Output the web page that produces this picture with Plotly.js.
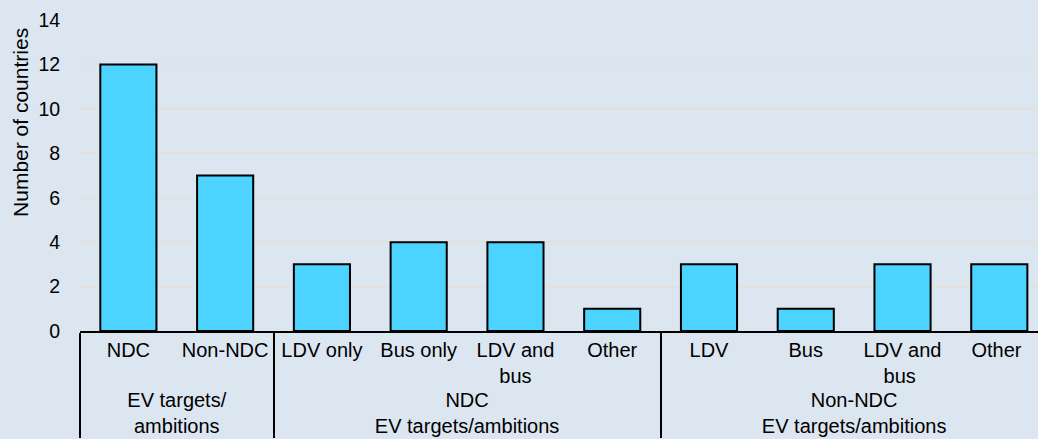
<!DOCTYPE html>
<html>
<head>
<meta charset="utf-8">
<script src="https://cdn.plot.ly/plotly-3.0.1.min.js"></script>
<style>
  html, body { margin: 0; padding: 0; background: #dce6f1; }
  #chart { width: 1038px; height: 439px; }
</style>
</head>
<body>
<div id="chart"></div>
<script>
// level 1 = group, level 2 = category; the trailing space keeps repeated
// names in the Non-NDC group as their own categories (keeps order)
const groups = [
  'EV targets/<br>ambitions', 'EV targets/<br>ambitions',
  'NDC<br>EV targets/ambitions', 'NDC<br>EV targets/ambitions',
  'NDC<br>EV targets/ambitions', 'NDC<br>EV targets/ambitions',
  'Non-NDC<br>EV targets/ambitions', 'Non-NDC<br>EV targets/ambitions',
  'Non-NDC<br>EV targets/ambitions', 'Non-NDC<br>EV targets/ambitions',
];
const categories = [
  'NDC', 'Non-NDC',
  'LDV only', 'Bus only', 'LDV and<br>bus', 'Other',
  'LDV', 'Bus', 'LDV and<br>bus ', 'Other ',
];
const countries = [12, 7, 3, 4, 4, 1, 3, 1, 3, 3];
const yTicks = [0, 2, 4, 6, 8, 10, 12, 14];

const font = { family: 'Liberation Sans, Arial, sans-serif', color: '#000' };

const trace = {
  x: [groups, categories],
  y: countries,
  type: 'bar',
  marker: { color: '#4cd3ff', line: { color: '#000', width: 2 } },
  hovertemplate: '%{y}<extra></extra>',
};

const layout = {
  width: 1038,
  height: 439,
  margin: { l: 80, r: 0, t: 20, b: 108 },
  font: { ...font, size: 20 },
  plot_bgcolor: '#dce6f1',
  paper_bgcolor: '#dce6f1',
  showlegend: false,
  bargap: 0.42,
  xaxis: {
    type: 'multicategory',
    range: [-0.5, 9.4],
    showline: true,
    linecolor: '#000',
    linewidth: 2,
    showgrid: false,
    ticks: '',
    tickangle: 0,
    showdividers: true,
    dividercolor: '#000',
    dividerwidth: 2,
    tickfont: { ...font, size: 20 },
  },
  yaxis: {
    range: [0, 14],
    tickvals: yTicks,
    showgrid: true,
    gridcolor: '#e4e1dc',
    gridwidth: 2,
    zeroline: false,
    ticks: 'outside',
    ticklen: 15,
    tickcolor: 'rgba(0,0,0,0)',
    tickfont: { ...font, size: 19.5 },
  },
  // y title sits above the plot's middle in the reference, so use an annotation
  annotations: [{
    text: 'Number of countries',
    xref: 'paper', yref: 'paper',
    x: 0, y: 0.669,
    xanchor: 'center', yanchor: 'middle',
    xshift: -59,
    textangle: -90,
    showarrow: false,
    font: { ...font, size: 21 },
  }],
};

Plotly.newPlot('chart', [trace], layout, { displayModeBar: false, staticPlot: true });
</script>
</body>
</html>
